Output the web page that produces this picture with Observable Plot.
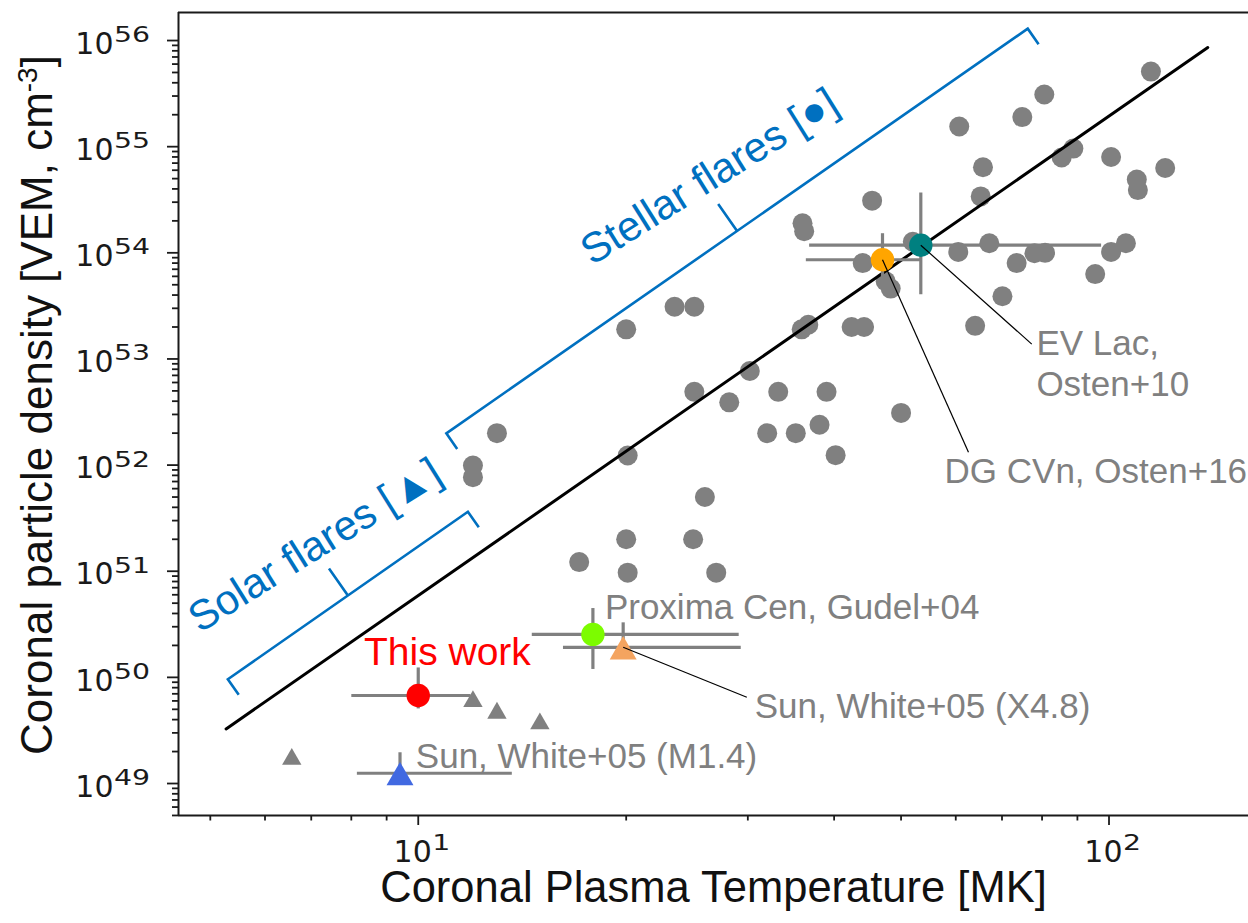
<!DOCTYPE html>
<html>
<head>
<meta charset="utf-8">
<script src="https://cdn.jsdelivr.net/npm/d3@7"></script>
<script src="https://cdn.jsdelivr.net/npm/@observablehq/plot@0.6"></script>
<style>
  html, body { margin: 0; padding: 0; background: #fff; }
  #chart svg { display: block; }
</style>
</head>
<body>
<div id="chart"></div>
<script>
// ---- Stellar flares (grey circles): temperature [MK], VEM [cm^-3]
const stellarT = [115, 80.6, 74.9, 60.7, 88.8, 85.4, 100.7, 120.6, 65.7, 109.7,
  110.1, 65.2, 45.4, 36.0, 36.2, 52.0, 60.5, 67.1, 73.5, 78.0,
  80.8, 100.7, 105.8, 95.5, 44.0, 48.3, 47.5, 70.1, 35.9, 36.7,
  42.4, 44.2, 64.0, 30.2, 33.2, 39.0, 50.0, 23.5, 25.1, 20.0,
  25.1, 28.2, 32.0, 35.2, 38.1, 40.2, 20.1, 26.0, 20.0, 25.0,
  17.1, 20.1, 27.0, 13.0, 12.0, 12.0];
const stellarVEM = [5.1e55, 3.1e55, 1.9e55, 1.55e55, 9.6e54, 7.9e54, 8.0e54, 6.3e54, 6.4e54, 4.9e54,
  3.9e54, 3.4e54, 3.1e54, 1.9e54, 1.6e54, 1.27e54, 1.02e54, 1.23e54, 8.0e53, 9.9e53,
  1.0e54, 1.02e54, 1.23e54, 6.3e53, 8.0e53, 4.6e53, 5.4e53, 3.9e53, 1.9e53, 2.1e53,
  2.0e53, 2.0e53, 2.05e53, 7.7e52, 4.9e52, 4.9e52, 3.1e52, 3.1e53, 3.1e53, 1.9e53,
  4.9e52, 3.9e52, 2.0e52, 2.0e52, 2.4e52, 1.24e52, 1.23e52, 5.0e51, 2.0e51, 2.0e51,
  1.22e51, 9.7e50, 9.7e50, 2.0e52, 9.9e51, 7.7e51];

// ---- Solar flares (grey triangles)
const solarT = [12.0, 13.0, 15.0, 6.56];
const solarVEM = [6.3e49, 4.9e49, 3.9e49, 1.8e49];

// ---- Highlighted measurements with error bars
const hlNames = ["This work", "Proxima Cen", "Sun X4.8", "Sun M1.4", "DG CVn", "EV Lac"];
const hlShape = ["circle", "circle", "triangle", "triangle", "circle", "circle"];
const hlT   = [10.0, 17.9, 19.8, 9.41, 47.0, 53.4];
const hlVEM = [6.75e49, 2.54e50, 1.92e50, 1.25e49, 8.6e53, 1.18e54];
const hlTlo = [8.0, 14.6, 16.2, 8.15, 36.4, 36.8];
const hlThi = [11.9, 29.1, 29.3, 13.66, 53.5, 97.4];
const hlVlo = [5.1e49, 1.2e50, 1.7e50, 1.1e49, 5.5e53, 4.07e53];
const hlVhi = [1.24e50, 4.5e50, 3.3e50, 1.97e49, 1.53e54, 3.7e54];
const hlColors = ["#ff0000", "#7cfc00", "#f4a460", "#4169e1", "#ffa500", "#008080"];

// ---- Fit line (VEM ~ T^4.5)
const fitT = [5.27, 139];
const fitVEM = [3.27e49, 8.6e55];

// ---- Annotation labels (grey)
const labelText = ["EV Lac,", "Osten+10", "DG CVn, Osten+16", "Proxima Cen, Gudel+04",
  "Sun, White+05 (X4.8)", "Sun, White+05 (M1.4)"];
const labelT = [78.5, 78.5, 57.8, 18.63, 30.7, 9.92];
const labelVEM = [1.40e53, 5.7e52, 8.7e51, 4.5e50, 5.3e49, 1.77e49];

// ---- Leader lines from highlighted points to their labels
const leaderFrom = ["EV Lac", "DG CVn", "Sun X4.8"];
const leaderToT = [77.3, 62.6, 29.9];
const leaderToVEM = [1.38e53, 1.32e52, 6.5e49];

// ---- Brackets and their labels
const bracketText = ["Solar flares [\u25B2]", "Stellar flares [\u25CF]"];
const bracketT0 = [5.31, 11.0];
const bracketV0 = [9.5e49, 1.97e52];
const bracketT1 = [11.82, 76.4];
const bracketV1 = [3.6e51, 1.28e56];
const bracketTextT = [7.09, 26.4];
const bracketTextV = [1.75e51, 5.2e54];

// ---- Axes
const xDomain = [4.497, 159.2];
const yDomain = [4.996e48, 1.837e56];
const xMajor = [10, 100];
const xTickExp = ["1", "2"];
const xMinor = [5, 6, 7, 8, 9, 20, 30, 40, 50, 60, 70, 80, 90];
const yMajor = [1e49, 1e50, 1e51, 1e52, 1e53, 1e54, 1e55, 1e56];
const yTickExp = ["49", "50", "51", "52", "53", "54", "55", "56"];
const yMinor = [];
for (let e = 48; e <= 55; e++) for (let m = 2; m <= 9; m++) {
  const v = m * Math.pow(10, e);
  if (v > yDomain[0] && v < yDomain[1]) yMinor.push(v);
}
const xLabel = "Coronal Plasma Temperature [MK]";
const yLabelMain = "Coronal particle density [VEM, cm";
const yLabelSup = "-3";
const yLabelEnd = "]";

// ---- build tables
const stellar = stellarT.map((t, i) => ({t, v: stellarVEM[i]}));
const solar = solarT.map((t, i) => ({t, v: solarVEM[i]}));
const hl = hlNames.map((name, i) => ({name, shape: hlShape[i], t: hlT[i], v: hlVEM[i],
  tlo: hlTlo[i], thi: hlThi[i], vlo: hlVlo[i], vhi: hlVhi[i]}));
const hlCircles = hl.filter(d => d.shape === "circle");
const hlTriangles = hl.filter(d => d.shape === "triangle");
const fit = fitT.map((t, i) => ({t, v: fitVEM[i]}));
const labels = labelText.map((text, i) => ({text, t: labelT[i], v: labelVEM[i]}));
const leaders = leaderFrom.map((name, i) => {
  const p = hl.find(d => d.name === name);
  return {t1: p.t, v1: p.v, t2: leaderToT[i], v2: leaderToVEM[i]};
});
const brackets = bracketText.map((text, i) => ({text, t0: bracketT0[i], v0: bracketV0[i],
  t1: bracketT1[i], v1: bracketV1[i], tt: bracketTextT[i], tv: bracketTextV[i]}));

const BLUE = "#0070c0";
const GREY = "#808080";
const SANS = "Liberation Sans, Arial, sans-serif";

function bracketMark(index, scales) {
  const g = d3.create("svg:g").attr("fill", "none").attr("stroke", BLUE)
    .attr("stroke-width", 2.6).attr("stroke-linejoin", "miter");
  for (const b of brackets) {
    const x0 = scales.x(b.t0), y0 = scales.y(b.v0), x1 = scales.x(b.t1), y1 = scales.y(b.v1);
    const L = Math.hypot(x1 - x0, y1 - y0);
    const ux = (x1 - x0) / L, uy = (y1 - y0) / L;
    const nx = -uy, ny = ux; // points down-right (towards data)
    const h = 19, tk = 33;
    const mx = (x0 + x1) / 2, my = (y0 + y1) / 2;
    const path = `M${x0 + nx * h},${y0 + ny * h}L${x0},${y0}L${mx},${my}L${mx - nx * tk},${my - ny * tk}` +
      `M${mx},${my}L${x1},${y1}L${x1 + nx * h},${y1 + ny * h}`;
    g.append("path").attr("d", path);
  }
  return g.node();
}

function tickLabelMark(index, scales, values, dim) {
  const g = d3.create("svg:g").attr("font-family", "DejaVu Sans, sans-serif")
    .attr("fill", "#1a1a1a").attr("text-anchor", "start");
  const xl = dim.marginLeft;
  yMajor.forEach((v, i) => {
    const y = scales.y(v);
    g.append("text").attr("x", xl - 64.5).attr("y", y + 13.7).attr("text-anchor", "end")
      .attr("font-size", 30).text("10");
    g.append("text").attr("transform", `translate(${xl - 64},${y + 2}) scale(1.35,1)`)
      .attr("text-anchor", "start").attr("font-size", 21).text(yTickExp[i]);
  });
  const yb = dim.height - dim.marginBottom;
  xMajor.forEach((v, i) => {
    const x = scales.x(v);
    g.append("text").attr("x", x + 14).attr("y", yb + 46.5).attr("text-anchor", "end")
      .attr("font-size", 30).text("10");
    g.append("text").attr("transform", `translate(${x + 14.5},${yb + 35}) scale(1.35,1)`)
      .attr("text-anchor", "start").attr("font-size", 21).text(xTickExp[i]);
  });
  // y axis title with superscript
  const t = g.append("text").attr("transform", `translate(${xl - 126},405) rotate(-90)`)
    .attr("text-anchor", "middle").attr("font-family", SANS).attr("font-size", 44).attr("fill", "#111");
  t.append("tspan").text(yLabelMain);
  t.append("tspan").attr("font-size", 28).attr("dy", -15).text(yLabelSup);
  t.append("tspan").attr("dy", 15).text(yLabelEnd);
  return g.node();
}

const axisCommon = {tickFormat: () => "", label: null, stroke: "#1a1a1a", strokeWidth: 1.8};

const chart = Plot.plot({
  width: 1248,
  height: 923,
  marginLeft: 178,
  marginRight: 0,
  marginTop: 12,
  marginBottom: 108,
  x: {type: "log", domain: xDomain},
  y: {type: "log", domain: yDomain},
  color: {domain: hlNames, range: hlColors},
  style: {background: "#fff", fontFamily: SANS, overflow: "visible"},
  marks: [
    Plot.axisX(xMajor, {...axisCommon, tickSize: 10}),
    Plot.axisX(xMinor, {...axisCommon, tickSize: 5.5}),
    Plot.axisY(yMajor, {...axisCommon, tickSize: 11}),
    Plot.axisY(yMinor, {...axisCommon, tickSize: 6}),
    Plot.ruleY([yDomain[0], yDomain[1]], {stroke: "#1a1a1a", strokeWidth: 2}),
    Plot.ruleX([xDomain[0]], {stroke: "#1a1a1a", strokeWidth: 2}),
    Plot.dot(stellar, {x: "t", y: "v", r: 10, fill: GREY}),
    Plot.dot(solar, {x: "t", y: "v", r: 7.2, symbol: "triangle", fill: GREY, dy: 2.8}),
    Plot.line(fit, {x: "t", y: "v", stroke: "black", strokeWidth: 3}),
    Plot.link(hl, {x1: "tlo", x2: "thi", y1: "v", y2: "v", stroke: GREY, strokeWidth: 3.2}),
    Plot.link(hl, {x1: "t", x2: "t", y1: "vlo", y2: "vhi", stroke: GREY, strokeWidth: 3.2}),
    Plot.dot(hlCircles, {x: "t", y: "v", r: 11.7, fill: "name"}),
    Plot.dot(hlTriangles, {x: "t", y: "v", r: 10, symbol: "triangle", fill: "name", dy: 4.3}),
    Plot.link(leaders, {x1: "t1", y1: "v1", x2: "t2", y2: "v2", stroke: "black", strokeWidth: 1.2}),
    bracketMark,
    Plot.text(brackets, {x: "tt", y: "tv", text: "text", rotate: -32, fill: BLUE, fontSize: 42,
      textAnchor: "middle", lineAnchor: "middle"}),
    Plot.text(labels, {x: "t", y: "v", text: "text", textAnchor: "start", lineAnchor: "middle",
      fill: GREY, fontSize: 35}),
    Plot.text(hl.filter(d => d.name === "This work"), {x: () => 11.02, y: () => 1.73e50,
      text: "name", fill: "#ff0000", fontSize: 39, textAnchor: "middle", lineAnchor: "middle"}),
    Plot.text([xLabel], {frameAnchor: "bottom", dy: 86, text: d => d, fontSize: 43.5, fill: "#111"}),
    tickLabelMark
  ]
});

document.getElementById("chart").append(chart);
</script>
</body>
</html>
